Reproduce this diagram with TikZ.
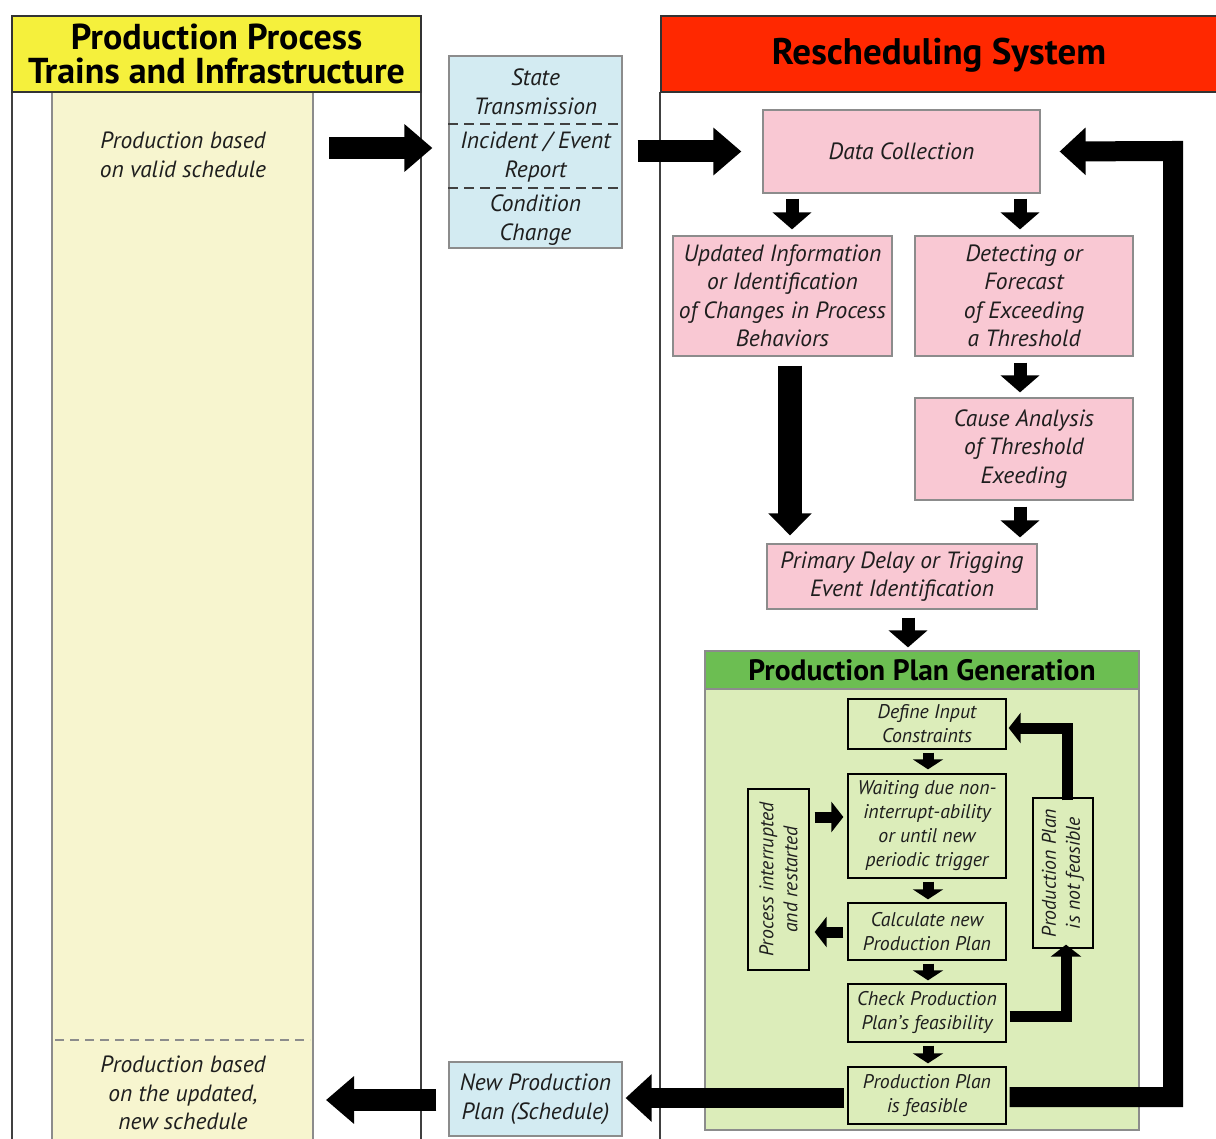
\documentclass[tikz,border=0pt]{standalone}
\usepackage{fontspec}
\setmainfont{PT Sans}
\usetikzlibrary{arrows.meta,calc}

\definecolor{hdryellow}{RGB}{245,240,60}
\definecolor{stripyellow}{RGB}{247,245,207}
\definecolor{hdrred}{RGB}{255,40,0}
\definecolor{paleblue}{RGB}{211,235,242}
\definecolor{pink}{RGB}{249,200,211}
\definecolor{hdrgreen}{RGB}{108,190,82}
\definecolor{palegreen}{RGB}{220,237,186}
\definecolor{edgegray}{RGB}{140,140,140}
\definecolor{inktext}{RGB}{30,30,30}

\tikzset{
  txt/.style={font=\fontsize{23.5}{28.5}\selectfont\itshape, text=inktext, align=center},
  smalltxt/.style={font=\fontsize{19.8}{24}\selectfont\itshape, text=inktext, align=center},
  bluebox/.style={txt, draw=edgegray, line width=1.2pt, fill=paleblue, inner sep=0pt},
  pinkbox/.style={txt, draw=edgegray, line width=1.2pt, fill=pink, inner sep=0pt},
  genbox/.style={smalltxt, draw=black, line width=1.3pt, fill=palegreen, inner sep=0pt,
                 minimum width=158pt},
  bigarrow/.style={line width=22pt, -{Triangle[length=28pt,width=46pt]}, line join=miter},
  midarrow/.style={line width=13pt, -{Triangle[length=17pt,width=38pt]}},
  longarrow/.style={line width=24pt, -{Triangle[length=22pt,width=42pt]}},
  tinyarrow/.style={line width=11pt, -{Triangle[length=10pt,width=30pt]}},
  loopsmall/.style={line width=11pt, -{Triangle[length=12pt,width=30pt]}, line join=miter},
  loopbig/.style={line width=20pt, -{Triangle[length=26pt,width=46pt]}, line join=miter},
}

\begin{document}
\begin{tikzpicture}[x=1pt,y=-1pt]
\useasboundingbox (0,0) rectangle (1216,1139);
\fill[white] (0,0) rectangle (1216,1139);

% ---- left column: production process ----
\fill[stripyellow] (52,92) rectangle (313,1145);
\draw[edgegray, line width=1.2pt] (52,92) -- (52,1145) (313,92) -- (313,1145);
\draw[edgegray, line width=1.2pt, dash pattern=on 9pt off 6pt] (55,1040) -- (310,1040);
\draw[black!75, line width=1.3pt] (12,92) -- (12,1145) (421,92) -- (421,1145);
\node[draw=black!80, line width=1.5pt, fill=hdryellow, minimum width=409pt, minimum height=76pt,
      inner sep=0pt, font=\fontsize{36}{34}\selectfont\bfseries, align=center]
      (lefthdr) at (216.5,54) {Production Process\\Trains and Infrastructure};

\node[txt] (prodvalid) at (183,155) {Production based\\on valid schedule};
\node[txt] (prodnew) at (183,1093) {Production based\\on the updated,\\new schedule};

% ---- middle: transmitted information ----
\node[bluebox, minimum width=173pt, minimum height=192pt] (state) at (535.5,152) {};
\draw[black!75, line width=1.2pt, dash pattern=on 10pt off 6pt]
  (state.west |- 0,124) -- (state.east |- 0,124)
  (state.west |- 0,188) -- (state.east |- 0,188);
\node[txt] (st1) at (535.5,92) {State\\Transmission};
\node[txt] (st2) at (535.5,157) {Incident / Event\\Report};
\node[txt] (st3) at (535.5,220) {Condition\\Change};

\node[bluebox, minimum width=173pt, minimum height=74pt] (newplan) at (535.5,1099)
  {New Production\\Plan (Schedule)};

% ---- right column: rescheduling system ----
\draw[black!75, line width=1.3pt] (660,92) -- (660,1145);
\node[draw=black!80, line width=1.5pt, fill=hdrred, minimum width=570pt, minimum height=76pt,
      inner sep=0pt, anchor=west] (righthdr) at (660,54) {};
\node[font=\fontsize{37}{40}\selectfont\bfseries] (rtitle) at (939,55) {Rescheduling System};

\node[pinkbox, minimum width=277pt, minimum height=83pt] (datacoll) at (901.5,151.5) {Data Collection};
\node[pinkbox, minimum width=219pt, minimum height=120pt] (updinfo) at (782.5,296)
  {Updated Information\\or Identification\\of Changes in Process\\Behaviors};
\node[pinkbox, minimum width=218pt, minimum height=120pt] (detect) at (1024,296)
  {Detecting or\\Forecast\\of Exceeding\\a Threshold};
\node[pinkbox, minimum width=218pt, minimum height=102pt] (cause) at (1024,449)
  {Cause Analysis\\of Threshold\\Exeeding};
\node[pinkbox, minimum width=270pt, minimum height=65pt] (primary) at (902,576.5)
  {Primary Delay or Trigging\\Event Identification};

% ---- production plan generation ----
\node[draw=edgegray, line width=1.2pt, fill=palegreen, minimum width=434pt, minimum height=479pt,
      inner sep=0pt] (gen) at (922,890.5) {};
\node[draw=edgegray, line width=1.2pt, fill=hdrgreen, minimum width=434pt, minimum height=38pt,
      inner sep=0pt, font=\fontsize{29.5}{30}\selectfont\bfseries] (genhdr) at (922,670)
  {Production Plan Generation};

\node[genbox, minimum height=50pt] (define) at (927,724) {Define Input\\Constraints};
\node[genbox, minimum height=104pt] (waiting) at (927,826)
  {Waiting due non-\\interrupt-ability\\or until new\\periodic trigger};
\node[genbox, minimum height=57pt] (calc) at (927,931.5) {Calculate new\\Production Plan};
\node[genbox, minimum height=58pt] (check) at (927,1013) {Check Production\\Plan's feasibility};
\node[genbox, minimum height=57pt] (feasible) at (927,1095.5) {Production Plan\\is feasible};

\node[smalltxt, draw=black, line width=1.3pt, fill=palegreen, inner sep=0pt,
      minimum width=181pt, minimum height=61pt, rotate=90] (procint) at (778.5,879.5)
  {Process interrupted\\and restarted};
\node[smalltxt, draw=black, line width=1.3pt, fill=palegreen, inner sep=0pt,
      minimum width=150pt, minimum height=60pt, rotate=90] (notfeas) at (1063,873)
  {Production Plan\\is not feasible};

% ---- connectors ----
\coordinate (startL) at (329,148);
\draw[bigarrow] (startL) -- ([xshift=-16pt]state.west |- startL);
\draw[bigarrow] ([xshift=15pt]state.east |- datacoll) -- ([xshift=-21pt]datacoll.west);

\draw[midarrow] ([yshift=-5pt]datacoll.south -| 792,0) -- ([yshift=6pt]updinfo.north -| 792,0);
\draw[midarrow] ([yshift=-5pt]datacoll.south -| 1020,0) -- ([yshift=6pt]detect.north -| 1020,0);
\draw[midarrow] ([yshift=-6pt]detect.south -| 1020,0) -- ([yshift=5pt]cause.north -| 1020,0);
\draw[longarrow] ([yshift=-9pt]updinfo.south -| 790,0) -- ([yshift=8pt]primary.north -| 790,0);
\draw[midarrow] ([yshift=-6pt]cause.south -| 1020,0) -- ([yshift=6pt]primary.north -| 1020,0);
\draw[midarrow] ([yshift=-8pt]primary.south -| 908,0) -- ([yshift=3pt]genhdr.north -| 908,0);

\draw[tinyarrow] ([yshift=-3pt]define.south -| 928,0) -- ([yshift=4pt]waiting.north -| 928,0);
\draw[tinyarrow] ([yshift=-3pt]waiting.south -| 928,0) -- ([yshift=3pt]calc.north -| 928,0);
\draw[tinyarrow] ([yshift=-3pt]calc.south -| 928,0) -- ([yshift=3pt]check.north -| 928,0);
\draw[tinyarrow] ([yshift=-3pt]check.south -| 928,0) -- ([yshift=3pt]feasible.north -| 928,0);

\draw[loopsmall] ([xshift=5pt]procint.south |- 0,817) -- ([xshift=-4pt]waiting.west |- 0,817);
\draw[loopsmall] ([xshift=-4pt]calc.west |- 0,932) -- ([xshift=5pt]procint.south |- 0,932);

\draw[loopsmall] ([xshift=3pt]check.east |- 0,1016) -- (1066,1016) -- ([yshift=4pt]notfeas.west -| 1066,0);
\draw[loopsmall] ([yshift=-3pt]notfeas.east -| 1067,0) -- (1067,728) -- ([xshift=2pt]define.east |- 0,728);

\draw[loopbig] ([xshift=3pt]feasible.east |- 0,1097) -- (1173,1097) -- (1173,151) -- ([xshift=19pt]datacoll.east);
\draw[loopbig] ([xshift=-3pt]feasible.west |- 0,1098) -- ([xshift=3pt]newplan.east |- 0,1098);
\draw[bigarrow] ([xshift=-12pt]newplan.west |- 0,1100) -- (326,1100);
\end{tikzpicture}
\end{document}
